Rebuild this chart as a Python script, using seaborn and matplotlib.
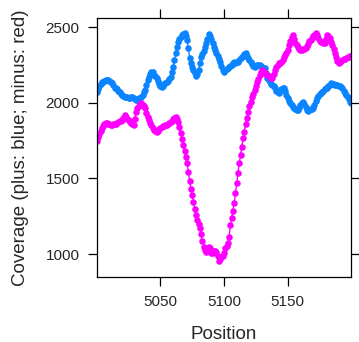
import numpy as np
import pandas as pd
import matplotlib
matplotlib.use("Agg")
import matplotlib.pyplot as plt
import seaborn as sns

# ---- data ----
positions = list(range(5000, 5201))

plus_coverage = [
    2073, 2090, 2110, 2125, 2135, 2139, 2145, 2150, 2148, 2150,
    2142, 2135, 2128, 2118, 2100, 2094, 2088, 2075, 2068, 2058,
    2051, 2045, 2040, 2035, 2038, 2033, 2030, 2035, 2040, 2032,
    2025, 2018, 2020, 2028, 2030, 2035, 2050, 2068, 2084, 2120,
    2150, 2172, 2190, 2205, 2200, 2185, 2175, 2161, 2145, 2125,
    2110, 2101, 2112, 2122, 2128, 2138, 2146, 2154, 2170, 2200,
    2238, 2280, 2326, 2365, 2403, 2420, 2435, 2447, 2452, 2458,
    2440, 2414, 2359, 2293, 2260, 2235, 2216, 2195, 2176, 2190,
    2216, 2260, 2304, 2325, 2345, 2370, 2395, 2420, 2451, 2440,
    2420, 2392, 2370, 2348, 2326, 2310, 2290, 2271, 2245, 2216,
    2205, 2215, 2225, 2227, 2235, 2245, 2250, 2260, 2268, 2262,
    2268, 2271, 2285, 2295, 2304, 2312, 2322, 2330, 2310, 2295,
    2282, 2270, 2255, 2245, 2238, 2242, 2248, 2252, 2249, 2245,
    2238, 2232, 2227, 2195, 2165, 2150, 2138, 2125, 2115, 2110,
    2095, 2080, 2070, 2062, 2075, 2088, 2095, 2098, 2075, 2050,
    2029, 2010, 1995, 1985, 1974, 1965, 1958, 1955, 1952, 1968,
    1985, 1998, 2007, 1990, 1970, 1955, 1947, 1950, 1958, 1960,
    1963, 1985, 2010, 2029, 2045, 2058, 2066, 2073, 2080, 2088,
    2095, 2100, 2110, 2120, 2128, 2125, 2122, 2120, 2117, 2115,
    2112, 2110, 2106, 2095, 2080, 2065, 2051, 2038, 2022, 2007,
    1995,
]

minus_coverage = [
    1750, 1775, 1795, 1815, 1830, 1845, 1858, 1865, 1868, 1862,
    1858, 1855, 1852, 1858, 1862, 1860, 1863, 1870, 1878, 1880,
    1885, 1900, 1918, 1905, 1892, 1885, 1875, 1865, 1858, 1852,
    1895, 1941, 1965, 1980, 1990, 1996, 1985, 1975, 1963, 1935,
    1908, 1885, 1865, 1852, 1835, 1822, 1812, 1808, 1815, 1825,
    1835, 1841, 1845, 1848, 1852, 1850, 1858, 1865, 1875, 1881,
    1890, 1900, 1903, 1890, 1874, 1840, 1798, 1760, 1719, 1680,
    1640, 1600, 1540, 1480, 1430, 1390, 1346, 1300, 1260, 1228,
    1200, 1170, 1133, 1085, 1045, 1025, 1016, 1030, 1045, 1040,
    1005, 1010, 1020, 1018, 1016, 990, 955, 965, 978, 988,
    1010, 1038, 1055, 1071, 1115, 1192, 1240, 1285, 1340, 1401,
    1467, 1538, 1600, 1655, 1710, 1765, 1809, 1860, 1900, 1941,
    1975, 2007, 2035, 2060, 2084, 2110, 2139, 2160, 2180, 2200,
    2216, 2208, 2198, 2190, 2183, 2175, 2168, 2165, 2161, 2190,
    2215, 2238, 2248, 2260, 2265, 2271, 2285, 2300, 2315, 2326,
    2350, 2381, 2410, 2435, 2447, 2420, 2392, 2380, 2365, 2355,
    2348, 2350, 2355, 2358, 2359, 2375, 2390, 2405, 2414, 2425,
    2440, 2450, 2458, 2445, 2425, 2410, 2403, 2398, 2395, 2392,
    2420, 2447, 2440, 2425, 2403, 2380, 2355, 2326, 2300, 2278,
    2260, 2268, 2275, 2282, 2288, 2292, 2296, 2299, 2303, 2306,
    2308,
]

strands = ["plus", "minus"]
strand_colors = {"plus": "#0a84ff", "minus": "#ff00ff"}
x_ticks = [5050, 5100, 5150]
y_ticks = [1000, 1500, 2000, 2500]

df = pd.concat([
    pd.DataFrame({"Position": positions, "Coverage": plus_coverage, "strand": "plus"}),
    pd.DataFrame({"Position": positions, "Coverage": minus_coverage, "strand": "minus"}),
], ignore_index=True)

# ---- style ----
sns.set_style("ticks")
plt.rcParams["font.family"] = ["Liberation Sans", "DejaVu Sans"]

fig = plt.figure(figsize=(3.59, 3.42), dpi=100)
ax = fig.add_axes([0.2694, 0.1909, 0.7075, 0.7565])

sns.lineplot(data=df, x="Position", y="Coverage", hue="strand",
             hue_order=strands, palette=strand_colors, ax=ax,
             marker="o", markersize=4.7, markeredgewidth=0,
             linewidth=1.0, legend=False, sort=True, estimator=None)

ax.set_xlim(5000, 5199.5)
ax.set_ylim(850, 2560)
ax.set_xticks(x_ticks)
ax.set_yticks(y_ticks)
ax.set_xticklabels([str(t) for t in x_ticks])
ax.set_yticklabels([str(t) for t in y_ticks])

for sp in ax.spines.values():
    sp.set_visible(True)
    sp.set_color("black")
    sp.set_linewidth(0.9)

ax.tick_params(axis="both", which="both", direction="out", length=6.3,
               width=0.9, color="black", top=True, right=True,
               labeltop=False, labelright=False, labelsize=11)
ax.tick_params(axis="x", pad=7)
ax.tick_params(axis="y", pad=6)

ax.set_xlabel("Position", fontsize=13.5, labelpad=12)
ax.set_ylabel("Coverage (plus: blue; minus: red)", fontsize=13.5, labelpad=12)

fig.savefig("out.png", dpi=100)
